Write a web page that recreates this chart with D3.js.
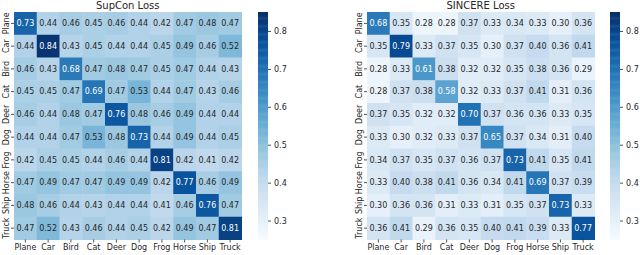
<!DOCTYPE html>
<html>
<head>
<meta charset="utf-8">
<script src="https://cdn.jsdelivr.net/npm/d3@7"></script>
<style>
  body { margin: 0; background: #fff; }
  svg { display: block; font-family: "DejaVu Sans", sans-serif; }
</style>
</head>
<body>
<svg id="chart" width="640" height="255"></svg>
<script>
const classes = ["Plane", "Car", "Bird", "Cat", "Deer", "Dog", "Frog", "Horse", "Ship", "Truck"];
const cbarTicks = [0.3, 0.4, 0.5, 0.6, 0.7, 0.8];

const supcon = [
  [0.73, 0.44, 0.46, 0.45, 0.46, 0.44, 0.42, 0.47, 0.48, 0.47],
  [0.44, 0.84, 0.43, 0.45, 0.44, 0.44, 0.45, 0.49, 0.46, 0.52],
  [0.46, 0.43, 0.68, 0.47, 0.48, 0.47, 0.45, 0.47, 0.44, 0.43],
  [0.45, 0.45, 0.47, 0.69, 0.47, 0.53, 0.44, 0.47, 0.43, 0.46],
  [0.46, 0.44, 0.48, 0.47, 0.76, 0.48, 0.46, 0.49, 0.44, 0.44],
  [0.44, 0.44, 0.47, 0.53, 0.48, 0.73, 0.44, 0.49, 0.44, 0.45],
  [0.42, 0.45, 0.45, 0.44, 0.46, 0.44, 0.81, 0.42, 0.41, 0.42],
  [0.47, 0.49, 0.47, 0.47, 0.49, 0.49, 0.42, 0.77, 0.46, 0.49],
  [0.48, 0.46, 0.44, 0.43, 0.44, 0.44, 0.41, 0.46, 0.76, 0.47],
  [0.47, 0.52, 0.43, 0.46, 0.44, 0.45, 0.42, 0.49, 0.47, 0.81]
];

const sincere = [
  [0.68, 0.35, 0.28, 0.28, 0.37, 0.33, 0.34, 0.33, 0.30, 0.36],
  [0.35, 0.79, 0.33, 0.37, 0.35, 0.30, 0.37, 0.40, 0.36, 0.41],
  [0.28, 0.33, 0.61, 0.38, 0.32, 0.32, 0.35, 0.38, 0.36, 0.29],
  [0.28, 0.37, 0.38, 0.58, 0.32, 0.33, 0.37, 0.41, 0.31, 0.36],
  [0.37, 0.35, 0.32, 0.32, 0.70, 0.37, 0.36, 0.36, 0.33, 0.35],
  [0.33, 0.30, 0.32, 0.33, 0.37, 0.65, 0.37, 0.34, 0.31, 0.40],
  [0.34, 0.37, 0.35, 0.37, 0.36, 0.37, 0.73, 0.41, 0.35, 0.41],
  [0.33, 0.40, 0.38, 0.41, 0.36, 0.34, 0.41, 0.69, 0.37, 0.39],
  [0.30, 0.36, 0.36, 0.31, 0.33, 0.31, 0.35, 0.37, 0.73, 0.33],
  [0.36, 0.41, 0.29, 0.36, 0.35, 0.40, 0.41, 0.39, 0.33, 0.77]
];

// matplotlib "Blues"
const bluesStops = ["#f7fbff", "#deebf7", "#c6dbef", "#9ecae1", "#6baed6", "#4292c6", "#2171b5", "#08519c", "#08306b"];
const vmin = 0.25, vmax = 0.85;
const color = d3.scaleLinear()
  .domain(d3.range(bluesStops.length).map(i => vmin + (vmax - vmin) * i / (bluesStops.length - 1)))
  .range(bluesStops)
  .clamp(true);

function luminance(c) {
  const rgb = d3.rgb(c);
  const lin = [rgb.r, rgb.g, rgb.b].map(v => {
    v /= 255;
    return v <= 0.03928 ? v / 12.92 : Math.pow((v + 0.055) / 1.055, 2.4);
  });
  return 0.2126 * lin[0] + 0.7152 * lin[1] + 0.0722 * lin[2];
}

const svg = d3.select("#chart");
const textColor = "#262626";

function drawHeatmap(data, title, x0, cbx) {
  const top = 12, size = 227.5;
  const x = d3.scaleBand().domain(classes).range([x0, x0 + size]);
  const y = d3.scaleBand().domain(classes).range([top, top + size]);

  const g = svg.append("g");

  const cells = [];
  data.forEach((row, i) => row.forEach((v, j) => cells.push({ r: classes[i], c: classes[j], v })));

  g.selectAll("rect")
    .data(cells)
    .join("rect")
    .attr("x", d => x(d.c))
    .attr("y", d => y(d.r))
    .attr("width", x.bandwidth() + 0.5)
    .attr("height", y.bandwidth() + 0.5)
    .attr("fill", d => color(d.v));

  g.selectAll("text.annot")
    .data(cells)
    .join("text")
    .attr("class", "annot")
    .attr("x", d => x(d.c) + x.bandwidth() / 2)
    .attr("y", d => y(d.r) + y.bandwidth() / 2)
    .attr("dy", "0.35em")
    .attr("text-anchor", "middle")
    .attr("font-size", 8)
    .attr("fill", d => luminance(color(d.v)) > 0.408 ? textColor : "#fff")
    .text(d => d.v.toFixed(2));

  // x axis
  const xAxis = g.append("g").attr("transform", `translate(0,${top + size})`)
    .call(d3.axisBottom(x).tickSize(3).tickPadding(2));
  xAxis.select(".domain").remove();
  xAxis.selectAll("line").attr("stroke", textColor).attr("stroke-width", 0.8);
  xAxis.selectAll("text").attr("font-size", 8).attr("fill", textColor).attr("font-family", "DejaVu Sans");

  // y axis
  const yAxis = g.append("g").attr("transform", `translate(${x0},0)`)
    .call(d3.axisLeft(y).tickSize(3).tickFormat(""));
  yAxis.select(".domain").remove();
  yAxis.selectAll("line").attr("stroke", textColor).attr("stroke-width", 0.8);
  g.append("g").selectAll("text")
    .data(classes)
    .join("text")
    .attr("transform", d => `translate(${x0 - 5},${y(d) + y.bandwidth() / 2}) rotate(-90)`)
    .attr("text-anchor", "middle")
    .attr("font-size", 8)
    .attr("fill", textColor)
    .text(d => d);

  svg.append("text")
    .attr("x", x0 + size / 2)
    .attr("y", 9)
    .attr("text-anchor", "middle")
    .attr("font-size", 10)
    .attr("fill", textColor)
    .text(title);

  // colorbar
  const cbw = 10;
  const cy = d3.scaleLinear().domain([vmin, vmax]).range([top + size, top]);
  const steps = d3.range(0, 256);
  g.append("g").selectAll("rect")
    .data(steps)
    .join("rect")
    .attr("x", cbx)
    .attr("y", i => cy(vmin + (vmax - vmin) * (i + 1) / 256))
    .attr("width", cbw)
    .attr("height", size / 256 + 0.5)
    .attr("fill", i => color(vmin + (vmax - vmin) * (i + 0.5) / 256));

  const cAxis = g.append("g").attr("transform", `translate(${cbx + cbw},0)`)
    .call(d3.axisRight(cy).tickValues(cbarTicks).tickFormat(d3.format(".1f")).tickSize(3).tickPadding(3));
  cAxis.select(".domain").remove();
  cAxis.selectAll("line").attr("stroke", textColor).attr("stroke-width", 0.8);
  cAxis.selectAll("text").attr("font-size", 8).attr("fill", textColor).attr("font-family", "DejaVu Sans");
}

drawHeatmap(supcon, "SupCon Loss", 14, 258);
drawHeatmap(sincere, "SINCERE Loss", 367, 610);
</script>
</body>
</html>
